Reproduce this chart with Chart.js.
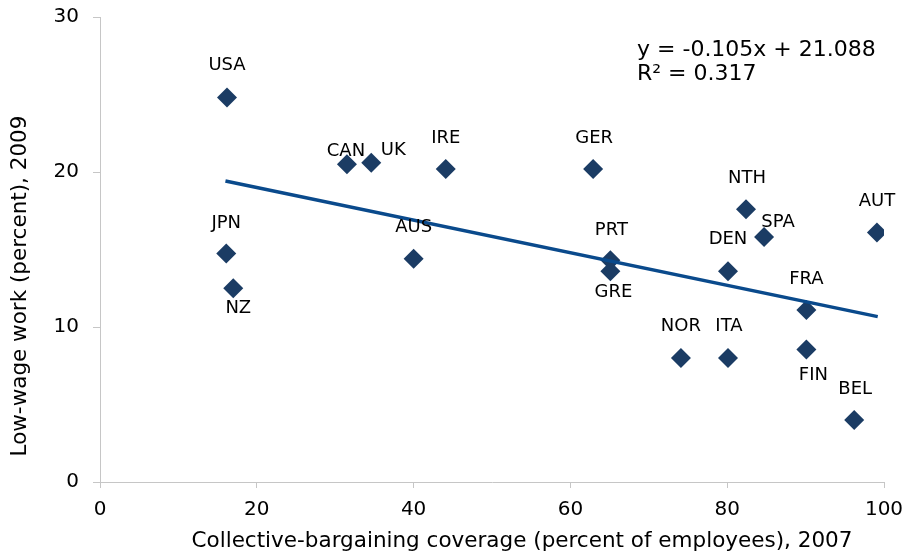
<!DOCTYPE html>
<html>
<head>
<meta charset="utf-8">
<script src="https://cdn.jsdelivr.net/npm/chart.js@4.4.1/dist/chart.umd.min.js"></script>
<style>
  html, body { margin: 0; padding: 0; background: #fff; }
  #wrap { width: 905px; height: 559px; }
</style>
</head>
<body>
<div id="wrap"><canvas id="myChart"></canvas></div>
<script>
// Data
const countries = ['USA', 'CAN', 'UK', 'IRE', 'GER', 'NTH', 'SPA', 'AUT', 'PRT', 'GRE',
                   'DEN', 'FRA', 'FIN', 'NOR', 'ITA', 'BEL', 'JPN', 'NZ', 'AUS'];
const coverage = [16.2, 31.5, 34.6, 44.1, 62.9, 82.4, 84.7, 99.1, 65.1, 65.1,
                  80.1, 90.1, 90.1, 74.1, 80.1, 96.2, 16.1, 17.0, 40.0];
const lowWage = [24.8, 20.5, 20.6, 20.2, 20.2, 17.6, 15.8, 16.1, 14.3, 13.6,
                 13.6, 11.1, 8.55, 8.0, 8.0, 4.0, 14.75, 12.5, 14.4];

// Trendline end points (as drawn)
const trendX = [16.0, 99.2];
const trendY = [19.42, 10.67];
const equationLines = ['y = -0.105x + 21.088', 'R² = 0.317'];

const xTicks = [0, 20, 40, 60, 80, 100];
const yTicks = [0, 10, 20, 30];
const xTitle = 'Collective-bargaining coverage (percent of employees), 2007';
const yTitle = 'Low-wage work (percent), 2009';

const FONT = '"DejaVu Sans", Verdana, sans-serif';

// where each country label sits relative to its marker
const labelOffsets = {
  USA: [0, -32], CAN: [-1, -13], UK: [22, -12], IRE: [0, -31], GER: [1, -31],
  NTH: [1, -31], SPA: [14, -15], AUT: [0, -31], PRT: [1, -30], GRE: [3, 21],
  DEN: [0, -32], FRA: [0, -31], FIN: [7, 26], NOR: [0, -32], ITA: [1, -32],
  BEL: [1, -31], JPN: [0, -30], NZ: [5, 20], AUS: [0, -31]
};

const points = countries.map((c, i) => ({ x: coverage[i], y: lowWage[i] }));
const trend = trendX.map((x, i) => ({ x: x, y: trendY[i] }));

// Country labels, equation and axis titles
const textPlugin = {
  id: 'texts',
  afterDatasetsDraw(chart) {
    const ctx = chart.ctx;
    const xs = chart.scales.x, ys = chart.scales.y;
    ctx.save();
    ctx.fillStyle = '#000';
    ctx.font = '18px ' + FONT;
    ctx.textAlign = 'center';
    ctx.textBaseline = 'middle';
    countries.forEach((c, i) => {
      const off = labelOffsets[c];
      ctx.fillText(c, xs.getPixelForValue(coverage[i]) + off[0], ys.getPixelForValue(lowWage[i]) + off[1]);
    });

    ctx.font = '22px ' + FONT;
    ctx.textAlign = 'left';
    equationLines.forEach((t, i) => ctx.fillText(t, 637, 50 + i * 24));

    ctx.font = '21.5px ' + FONT;
    ctx.textAlign = 'center';
    ctx.fillText(xTitle, 522, 541);

    ctx.translate(20, 286);
    ctx.rotate(-Math.PI / 2);
    ctx.fillText(yTitle, 0, 0);
    ctx.restore();
  }
};

const chart = new Chart(document.getElementById('myChart'), {
  type: 'scatter',
  data: {
    datasets: [{
      label: 'Countries',
      data: points,
      pointStyle: 'rectRot',
      pointRadius: 10,
      pointHoverRadius: 10,
      backgroundColor: '#1b3c64',
      borderColor: '#1b3c64',
      borderWidth: 0,
      order: 1
    }, {
      type: 'line',
      label: 'Trend',
      data: trend,
      borderColor: '#0a4a8c',
      borderWidth: 3.5,
      pointRadius: 0,
      fill: false,
      order: 0
    }]
  },
  options: {
    responsive: true,
    maintainAspectRatio: false,
    animation: false,
    layout: { padding: { top: 17, right: 21, left: 0, bottom: 0 } },
    plugins: {
      legend: { display: false },
      tooltip: { enabled: false }
    },
    scales: {
      x: {
        type: 'linear',
        min: 0,
        max: 100,
        afterBuildTicks: (scale) => { scale.ticks = xTicks.map(v => ({ value: v })); },
        afterFit: (scale) => { scale.height = 77; scale.paddingLeft = 0; scale.paddingRight = 0; },
        grid: { drawOnChartArea: false, color: '#c6c6c6', tickLength: 6 },
        border: { color: '#c6c6c6' },
        ticks: { color: '#000', padding: 10, font: { family: FONT, size: 20 } }
      },
      y: {
        type: 'linear',
        min: 0,
        max: 30,
        afterBuildTicks: (scale) => { scale.ticks = yTicks.map(v => ({ value: v })); },
        afterFit: (scale) => { scale.width = 100; scale.paddingTop = 0; scale.paddingBottom = 0; },
        grid: { drawOnChartArea: false, color: '#c6c6c6', tickLength: 7 },
        border: { color: '#c6c6c6' },
        ticks: { color: '#000', padding: 14, font: { family: FONT, size: 20 } }
      }
    }
  },
  plugins: [textPlugin]
});
</script>
</body>
</html>
